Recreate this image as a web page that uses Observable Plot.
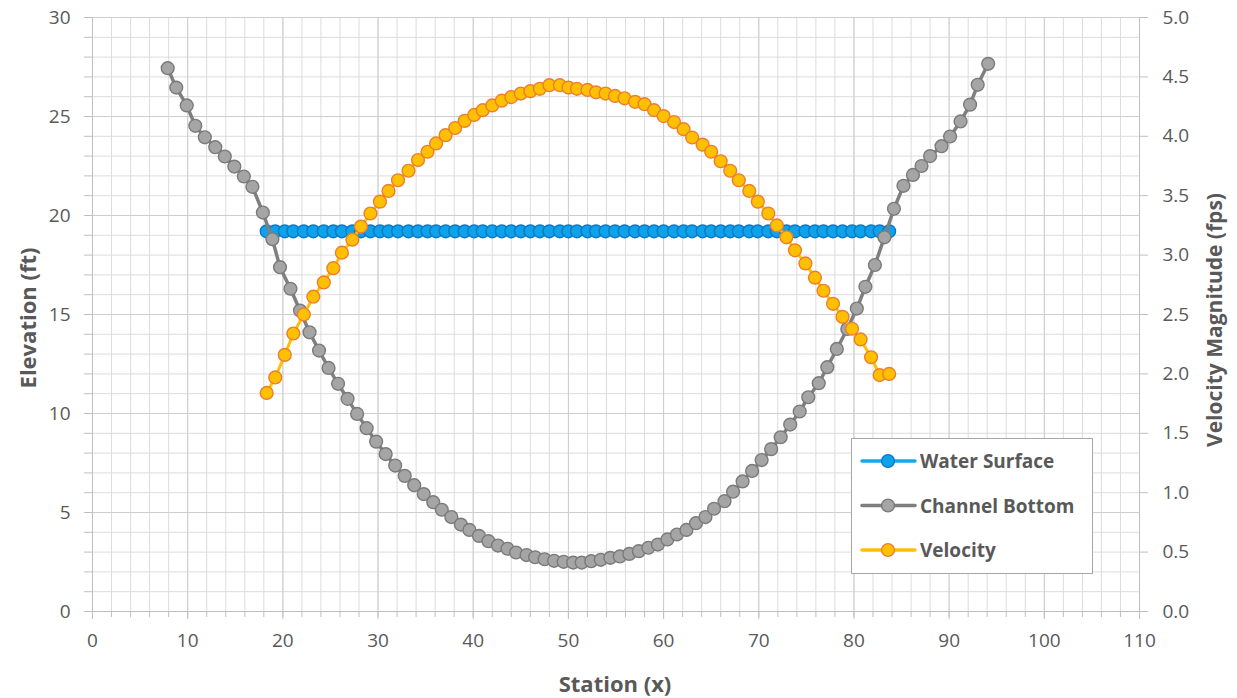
<!DOCTYPE html>
<html>
<head>
<meta charset="utf-8">
<script src="https://cdn.jsdelivr.net/npm/d3@7"></script>
<script src="https://cdn.jsdelivr.net/npm/@observablehq/plot@0.6"></script>
<style>
  html, body { margin: 0; padding: 0; background: #ffffff; }
  #chart { width: 1237px; height: 698px; }
</style>
</head>
<body>
<div id="chart"></div>
<script>
// Channel cross-section: ground profile (station, elevation)
const bottomStation = [
  7.9, 8.8, 9.9, 10.8, 11.8, 12.9, 13.9, 14.9, 15.9, 16.8, 17.9, 18.9,
  19.7, 20.8, 21.8, 22.8, 23.8, 24.8, 25.8, 26.8, 27.8, 28.8, 29.8, 30.8,
  31.8, 32.8, 33.8, 34.8, 35.8, 36.7, 37.7, 38.7, 39.6, 40.6, 41.6, 42.6,
  43.6, 44.5, 45.6, 46.5, 47.5, 48.5, 49.5, 50.5, 51.4, 52.4, 53.4, 54.4,
  55.4, 56.4, 57.4, 58.4, 59.4, 60.4, 61.4, 62.4, 63.4, 64.4, 65.3, 66.4,
  67.3, 68.3, 69.3, 70.3, 71.3, 72.3, 73.3, 74.3, 75.2, 76.3, 77.2, 78.2,
  79.3, 80.3, 81.2, 82.2, 83.2, 84.2, 85.2, 86.2, 87.1, 88.0, 89.2, 90.1,
  91.2, 92.2, 93.0, 94.1
];
const bottomElevation = [
  27.44, 26.46, 25.56, 24.53, 23.95, 23.45, 22.98, 22.47, 21.97, 21.45, 20.15, 18.8,
  17.39, 16.3, 15.2, 14.1, 13.18, 12.3, 11.5, 10.74, 9.98, 9.26, 8.58, 7.95,
  7.37, 6.85, 6.38, 5.93, 5.52, 5.14, 4.77, 4.39, 4.12, 3.82, 3.55, 3.33,
  3.17, 2.98, 2.85, 2.74, 2.64, 2.56, 2.51, 2.47, 2.47, 2.54, 2.61, 2.71,
  2.78, 2.91, 3.05, 3.22, 3.38, 3.64, 3.89, 4.12, 4.46, 4.77, 5.19, 5.57,
  6.05, 6.57, 7.1, 7.65, 8.2, 8.8, 9.44, 10.1, 10.82, 11.53, 12.34, 13.26,
  14.27, 15.3, 16.4, 17.5, 18.9, 20.34, 21.5, 22.05, 22.5, 23.0, 23.5, 23.99,
  24.75, 25.6, 26.6, 27.66
];

// Wetted stations: water surface elevation (ft) and depth-averaged velocity (fps)
const flowStation = [
  18.3, 19.2, 20.2, 21.1, 22.2, 23.2, 24.3, 25.3, 26.2, 27.3, 28.2, 29.2,
  30.2, 31.1, 32.1, 33.2, 34.2, 35.2, 36.1, 37.1, 38.1, 39.1, 40.1, 41.0,
  42.0, 43.0, 44.0, 45.0, 46.0, 47.0, 48.0, 49.1, 50.0, 50.9, 52.0, 52.9,
  53.9, 54.9, 55.9, 57.0, 58.0, 59.0, 60.0, 61.1, 62.1, 63.0, 64.1, 65.0,
  66.0, 67.0, 67.9, 69.0, 69.9, 71.0, 71.9, 72.9, 73.8, 74.9, 75.9, 76.8,
  77.8, 78.8, 79.8, 80.7, 81.8, 82.7, 83.7
];
const waterSurface = [
  19.2, 19.2, 19.2, 19.2, 19.2, 19.2, 19.2, 19.2, 19.2, 19.2, 19.2, 19.2,
  19.2, 19.2, 19.2, 19.2, 19.2, 19.2, 19.2, 19.2, 19.2, 19.2, 19.2, 19.2,
  19.2, 19.2, 19.2, 19.2, 19.2, 19.2, 19.2, 19.2, 19.2, 19.2, 19.2, 19.2,
  19.2, 19.2, 19.2, 19.2, 19.2, 19.2, 19.2, 19.2, 19.2, 19.2, 19.2, 19.2,
  19.2, 19.2, 19.2, 19.2, 19.2, 19.2, 19.2, 19.2, 19.2, 19.2, 19.2, 19.2,
  19.2, 19.2, 19.2, 19.2, 19.2, 19.2, 19.2
];
const velocity = [
  1.84, 1.97, 2.16, 2.34, 2.50, 2.65, 2.77, 2.89, 3.02, 3.13, 3.24, 3.35,
  3.45, 3.54, 3.63, 3.71, 3.80, 3.87, 3.94, 4.01, 4.07, 4.13, 4.18, 4.22,
  4.26, 4.30, 4.33, 4.36, 4.38, 4.40, 4.43, 4.43, 4.41, 4.40, 4.39, 4.37,
  4.36, 4.34, 4.32, 4.29, 4.27, 4.22, 4.17, 4.12, 4.06, 3.99, 3.93, 3.87,
  3.79, 3.71, 3.63, 3.54, 3.45, 3.35, 3.25, 3.15, 3.04, 2.93, 2.81, 2.70,
  2.59, 2.48, 2.38, 2.29, 2.14, 1.99, 2.00
];

// Axis ticks
const stationTicks = [0, 10, 20, 30, 40, 50, 60, 70, 80, 90, 100, 110];
const stationMinor = [0, 2, 4, 6, 8, 10, 12, 14, 16, 18, 20, 22, 24, 26, 28, 30, 32, 34, 36, 38, 40,
  42, 44, 46, 48, 50, 52, 54, 56, 58, 60, 62, 64, 66, 68, 70, 72, 74, 76, 78, 80,
  82, 84, 86, 88, 90, 92, 94, 96, 98, 100, 102, 104, 106, 108, 110];
const elevationTicks = [0, 5, 10, 15, 20, 25, 30];
const elevationMinor = [0, 1, 2, 3, 4, 5, 6, 7, 8, 9, 10, 11, 12, 13, 14, 15, 16, 17, 18, 19, 20,
  21, 22, 23, 24, 25, 26, 27, 28, 29, 30];
const velocityTicks = [0.0, 0.5, 1.0, 1.5, 2.0, 2.5, 3.0, 3.5, 4.0, 4.5, 5.0];

// Secondary axis: 0–5 fps shares the frame with 0–30 ft
const ELEV_DOMAIN = [0, 30];
const VEL_DOMAIN = [0, 5];
const FT_PER_FPS = (ELEV_DOMAIN[1] - ELEV_DOMAIN[0]) / (VEL_DOMAIN[1] - VEL_DOMAIN[0]);

const series = {
  water:   {name: "Water Surface",  line: "#19a7ea", fill: "#0ea2ea", stroke: "#0b79c4"},
  bottom:  {name: "Channel Bottom", line: "#7f7f7f", fill: "#a5a5a5", stroke: "#7a7a7a"},
  vel:     {name: "Velocity",       line: "#ffc000", fill: "#ffc000", stroke: "#ed7d31"}
};

const bottomRows = bottomStation.map((x, i) => ({x, y: bottomElevation[i]}));
const waterRows = flowStation.map((x, i) => ({x, y: waterSurface[i]}));
const velRows = flowStation.map((x, i) => ({x, v: velocity[i]}));

const axisColor = "#bfbfbf";
const textColor = "#595959";
const R = 6.4;

const chart = Plot.plot({
  width: 1237,
  height: 698,
  marginLeft: 92,
  marginRight: 98,
  marginTop: 17,
  marginBottom: 87,
  style: {fontFamily: "'Open Sans', sans-serif", fontSize: "19px", color: textColor, background: "#ffffff", overflow: "visible"},
  x: {domain: [0, 110], axis: null},
  y: {domain: ELEV_DOMAIN, axis: null},
  marks: [
    // grid
    Plot.gridX(stationMinor, {stroke: "#dcdcdc", strokeOpacity: 1}),
    Plot.gridY(elevationMinor, {stroke: "#dcdcdc", strokeOpacity: 1}),
    Plot.gridX(stationTicks, {stroke: "#cecece", strokeOpacity: 1}),
    Plot.gridY(elevationTicks, {stroke: "#cecece", strokeOpacity: 1}),

    // axis lines
    Plot.ruleY([0], {stroke: axisColor}),
    Plot.ruleX([0], {stroke: axisColor}),
    Plot.ruleX([110], {stroke: axisColor}),

    // tick marks
    Plot.axisX(stationMinor, {tickSize: 6, tickFormat: () => "", stroke: axisColor, label: null}),
    Plot.axisX(stationTicks, {tickSize: 8, tickFormat: () => "", stroke: axisColor, label: null}),
    Plot.axisY(elevationMinor, {anchor: "left", tickSize: 8, tickFormat: () => "", stroke: axisColor, label: null}),
    Plot.axisY(velocityTicks.map(v => v * FT_PER_FPS), {anchor: "right", tickSize: 8, tickFormat: () => "", stroke: axisColor, label: null}),

    // tick labels
    Plot.axisX(stationTicks, {tickSize: 0, tickPadding: 22, fill: textColor, label: null}),
    Plot.axisY(elevationTicks, {anchor: "left", tickSize: 0, tickPadding: 22, fill: textColor, label: null}),
    Plot.axisY(velocityTicks.map(v => v * FT_PER_FPS), {
      anchor: "right", tickSize: 0, tickPadding: 23, fill: textColor, label: null,
      tickFormat: d => (d / FT_PER_FPS).toFixed(1)
    }),

    // Water surface
    Plot.line(waterRows, {x: "x", y: "y", stroke: series.water.line, strokeWidth: 3}),
    Plot.dot(waterRows, {x: "x", y: "y", r: R, fill: series.water.fill, stroke: series.water.stroke, strokeWidth: 1.4}),

    // Channel bottom
    Plot.line(bottomRows, {x: "x", y: "y", stroke: series.bottom.line, strokeWidth: 3.5}),
    Plot.dot(bottomRows, {x: "x", y: "y", r: R, fill: series.bottom.fill, stroke: series.bottom.stroke, strokeWidth: 1.4}),

    // Velocity on the secondary axis
    Plot.line(velRows, {x: "x", y: d => d.v * FT_PER_FPS, stroke: series.vel.line, strokeWidth: 3}),
    Plot.dot(velRows, {x: "x", y: d => d.v * FT_PER_FPS, r: R, fill: series.vel.fill, stroke: series.vel.stroke, strokeWidth: 1.4})
  ]
});

document.getElementById("chart").appendChild(chart);

// Axis titles
const svg = d3.select(chart);
const titleStyle = (t, size) => t
  .attr("fill", textColor)
  .attr("font-family", "'Open Sans', sans-serif")
  .attr("font-weight", "bold")
  .attr("font-size", size)
  .attr("text-anchor", "middle")
  .attr("dominant-baseline", "central");

titleStyle(svg.append("text").attr("x", 615).attr("y", 683).text("Station (x)"), 22);
titleStyle(svg.append("text").attr("transform", "translate(27,318) rotate(-90)").text("Elevation (ft)"), 22);
titleStyle(svg.append("text").attr("transform", "translate(1214,320) rotate(-90)").text("Velocity Magnitude (fps)"), 21);

// Legend
const legend = svg.append("g").attr("transform", "translate(851,438)");
legend.append("rect")
  .attr("x", 0.5).attr("y", 0.5)
  .attr("width", 241).attr("height", 135)
  .attr("fill", "#ffffff").attr("stroke", "#a6a6a6");
[series.water, series.bottom, series.vel].forEach((s, i) => {
  const cy = 23 + i * 44.5;
  const row = legend.append("g").attr("transform", `translate(0,${cy})`);
  row.append("line").attr("x1", 11).attr("x2", 64).attr("y1", 0).attr("y2", 0)
    .attr("stroke", s.line).attr("stroke-width", 3.5).attr("stroke-linecap", "round");
  row.append("circle").attr("cx", 37).attr("cy", 0).attr("r", R)
    .attr("fill", s.fill).attr("stroke", s.stroke).attr("stroke-width", 1.4);
  row.append("text").attr("x", 69).attr("y", 0)
    .attr("text-anchor", "start")
    .attr("dominant-baseline", "central")
    .attr("fill", textColor)
    .attr("font-family", "'Open Sans', sans-serif")
    .attr("font-weight", "bold")
    .attr("font-size", 19)
    .text(s.name);
});
</script>
</body>
</html>
